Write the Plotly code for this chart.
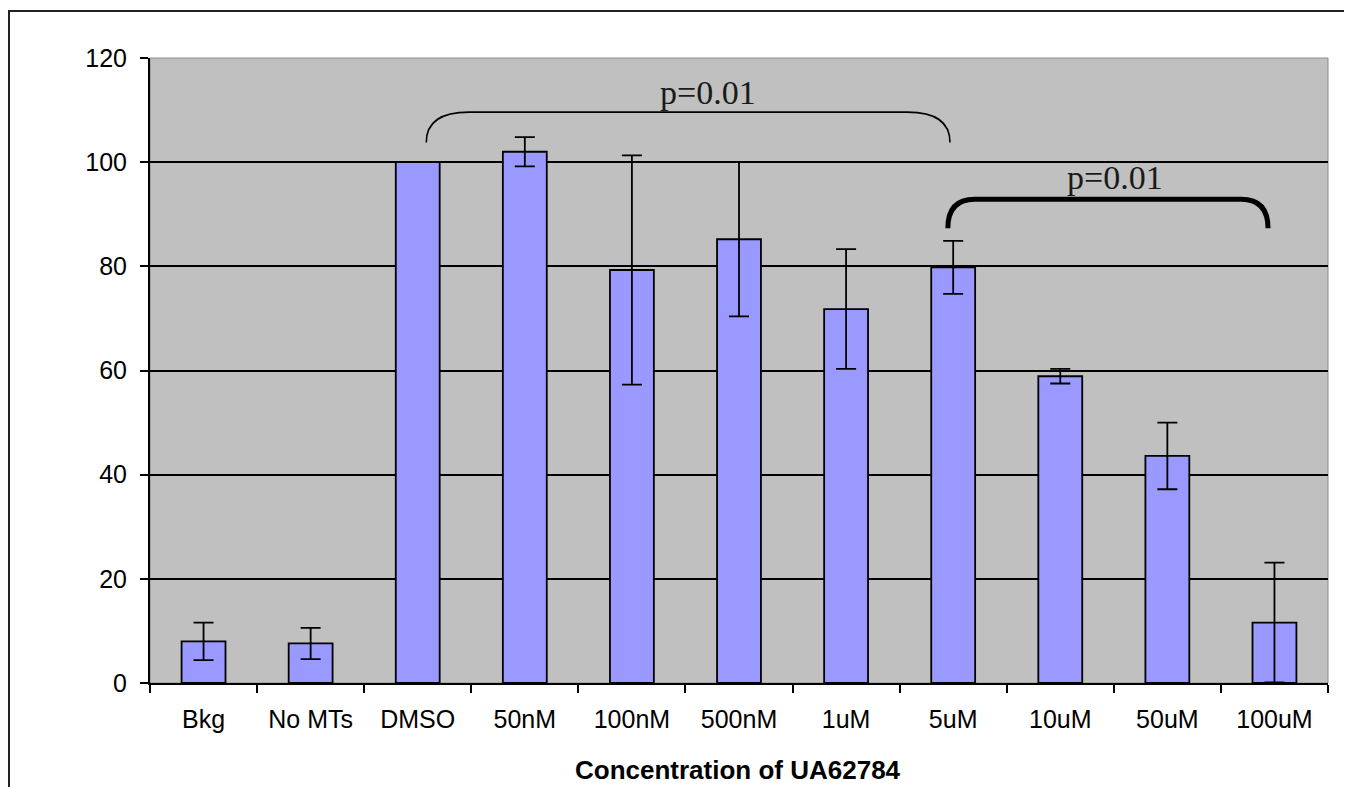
import plotly.graph_objects as go

categories = ["Bkg", "No MTs", "DMSO", "50nM", "100nM", "500nM", "1uM", "5uM", "10uM", "50uM", "100uM"]
values = [8.0, 7.6, 100.0, 102.0, 79.3, 85.2, 71.8, 79.8, 58.9, 43.6, 11.6]
errors = [3.6, 3.0, 0.0, 2.8, 22.0, 14.8, 11.5, 5.1, 1.4, 6.4, 11.5]

y_ticks = [0, 20, 40, 60, 80, 100, 120]

# significance brackets
bracket_x0 = [2.08, 6.95]
bracket_x1 = [6.97, 9.94]
bracket_ytop = [109.6, 92.9]
bracket_yend = [103.8, 87.3]
bracket_width = [1.6, 5]
bracket_cdx = [0.4, 0.25]
label_x = [4.71, 8.51]
label_y = [113.4, 97.1]
label_text = ["p=0.01", "p=0.01"]

fig = go.Figure()
fig.add_trace(go.Bar(
    x=categories, y=values, width=0.41,
    marker=dict(color="#9999FF", line=dict(color="black", width=1.8)),
    error_y=dict(type="data", array=errors, visible=True, color="black", thickness=1.8, width=10),
    showlegend=False,
))

shapes = []
for x0, x1, yt, ye, lw, cdx in zip(bracket_x0, bracket_x1, bracket_ytop, bracket_yend, bracket_width, bracket_cdx):
    path = (f"M {x0},{ye} Q {x0},{yt} {x0 + cdx},{yt} "
            f"L {x1 - cdx},{yt} Q {x1},{yt} {x1},{ye}")
    shapes.append(dict(type="path", path=path, xref="x", yref="y",
                       line=dict(color="black", width=lw)))

# plot-area gray frame
shapes.append(dict(type="rect", xref="paper", yref="paper", x0=0, x1=1, y0=0, y1=1,
                   line=dict(color="#8c8c8c", width=1), layer="below"))
# outer figure frame
shapes.append(dict(type="rect", xref="paper", yref="paper", x0=-0.1197, x1=1.0178,
                   y0=-0.25, y1=1.0752, line=dict(color="#222222", width=2)))

annotations = []
for lx, ly, t in zip(label_x, label_y, label_text):
    annotations.append(dict(x=lx, y=ly, xref="x", yref="y", text=t, showarrow=False,
                            font=dict(family="Liberation Serif, Times New Roman, serif", size=34, color="#1a1a1a")))
annotations.append(dict(x=0.499, y=-0.1392, xref="paper", yref="paper", yanchor="middle",
                        text="<b>Concentration of UA62784</b>", showarrow=False,
                        font=dict(family="Liberation Sans, Arial, sans-serif", size=26, color="black")))

fig.update_layout(
    width=1344, height=779,
    margin=dict(l=142, r=24, t=50, b=104),
    paper_bgcolor="white", plot_bgcolor="#C0C0C0",
    bargap=0.59,
    shapes=shapes, annotations=annotations,
    font=dict(family="Liberation Sans, Arial, sans-serif", size=25, color="black"),
)
fig.update_xaxes(
    type="category", tickson="boundaries", ticks="outside", ticklen=8, tickwidth=2,
    tickcolor="black", showline=True, linecolor="black", linewidth=2, showgrid=False,
    tickfont=dict(size=25), ticklabelstandoff=13,
)
fig.update_yaxes(
    range=[0, 120], tickvals=y_ticks, ticks="outside", ticklen=8, tickwidth=2,
    tickcolor="black", showline=True, linecolor="black", linewidth=2,
    showgrid=True, gridcolor="black", gridwidth=1.6, zeroline=False,
    tickfont=dict(size=25), ticklabelstandoff=8,
)

fig.write_html("out.html")
